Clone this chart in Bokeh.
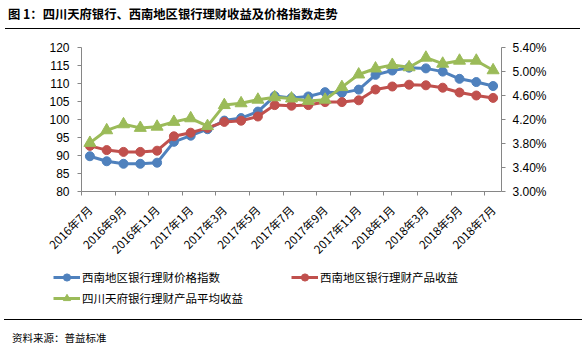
import math
from bokeh.plotting import figure
from bokeh.models import (Range1d, LinearAxis, FixedTicker, Legend, LegendItem, Div)
from bokeh.layouts import column, row
from bokeh.embed import file_html
from bokeh.resources import INLINE

months = ["2016年7月", "2016年8月", "2016年9月", "2016年10月", "2016年11月", "2016年12月",
          "2017年1月", "2017年2月", "2017年3月", "2017年4月", "2017年5月", "2017年6月",
          "2017年7月", "2017年8月", "2017年9月", "2017年10月", "2017年11月", "2017年12月",
          "2018年1月", "2018年2月", "2018年3月", "2018年4月", "2018年5月", "2018年6月",
          "2018年7月"]

price_index = [89.8, 88.4, 87.7, 87.7, 88.0, 93.8, 95.5, 97.3, 99.7, 100.4, 102.2, 106.5,
               106.0, 106.4, 107.6, 107.4, 108.3, 112.4, 113.6, 114.4, 114.2, 113.3, 111.3,
               110.4, 109.3]
sw_yield = [3.76, 3.69, 3.66, 3.66, 3.68, 3.92, 3.98, 4.06, 4.16, 4.18, 4.25, 4.44,
            4.43, 4.44, 4.49, 4.49, 4.52, 4.70, 4.75, 4.78, 4.77, 4.73, 4.65, 4.60, 4.56]
tf_yield = [3.81, 4.02, 4.12, 4.06, 4.08, 4.16, 4.22, 4.09, 4.44, 4.47, 4.53, 4.57,
            4.55, 4.51, 4.53, 4.74, 4.95, 5.05, 5.11, 5.07, 5.23, 5.13, 5.18, 5.18, 5.02]

series_names = ["西南地区银行理财价格指数", "西南地区银行理财产品收益", "四川天府银行理财产品平均收益"]
colors = ["#4F81BD", "#C0504D", "#9BBB59"]
markers = ["circle", "circle", "triangle"]
marker_sizes = [9, 9, 12]

title_text = "图 1：四川天府银行、西南地区银行理财收益及价格指数走势"
source_text = "资料来源：普益标准"

CJK = "Noto Sans CJK SC"
NUM = "Liberation Sans"
AXC = "#868686"

n = len(months)
xs = [i + 0.5 for i in range(n)]
label_pos = xs[::2]
boundaries = list(range(0, n, 2))
series_vals = [price_index, sw_yield, tf_yield]
series_ranges = ["default", "pct", "pct"]

# ---------------- main chart ----------------
p = figure(width=582, height=236, output_backend="svg", toolbar_location=None,
           x_range=Range1d(0, n), y_range=Range1d(80, 120),
           min_border_left=81, min_border_right=81, min_border_top=18, min_border_bottom=68,
           y_axis_location=None, x_axis_location=None, margin=0)
p.extra_y_ranges = {"pct": Range1d(3.0, 5.4)}
p.outline_line_color = None
p.grid.visible = False
p.background_fill_color = "white"
p.border_fill_color = "white"

ly = LinearAxis(ticker=FixedTicker(ticks=list(range(80, 121, 5))))
ly.axis_line_color = AXC
ly.major_tick_line_color = AXC
ly.minor_tick_line_color = None
ly.major_tick_out = 4
ly.major_tick_in = 0
ly.major_label_standoff = 8
ly.major_label_text_font = NUM
ly.major_label_text_font_size = "12px"
ly.major_label_text_color = "black"
p.add_layout(ly, "left")

pticks = [3.0, 3.4, 3.8, 4.2, 4.6, 5.0, 5.4]
ry = LinearAxis(y_range_name="pct", ticker=FixedTicker(ticks=pticks),
                major_label_overrides={t: "%.2f%%" % t for t in pticks})
ry.axis_line_color = AXC
ry.major_tick_line_color = AXC
ry.minor_tick_line_color = None
ry.major_tick_out = 4
ry.major_tick_in = 0
ry.major_label_standoff = 7
ry.major_label_text_font = NUM
ry.major_label_text_font_size = "12px"
ry.major_label_text_color = "black"
p.add_layout(ry, "right")

bx = LinearAxis(ticker=FixedTicker(ticks=label_pos, minor_ticks=boundaries),
                major_label_overrides={t: months[int(t)] for t in label_pos})
bx.axis_line_color = AXC
bx.major_tick_line_color = None
bx.major_tick_out = 0
bx.major_tick_in = 0
bx.minor_tick_line_color = AXC
bx.minor_tick_out = 4
bx.minor_tick_in = 0
bx.major_label_orientation = math.pi / 4
bx.major_label_standoff = 12
bx.major_label_text_font = CJK
bx.major_label_text_font_size = "11.5px"
bx.major_label_text_color = "black"
p.add_layout(bx, "below")

for vals, rng, c, mk, ms in zip(series_vals, series_ranges, colors, markers, marker_sizes):
    p.line(xs, vals, line_color=c, line_width=3, y_range_name=rng)
    p.scatter(xs, vals, marker=mk, size=ms, fill_color=c, line_color=c, y_range_name=rng)

# ---------------- legend strip ----------------
# Same series drawn into a strip whose ranges keep them out of view; only the legends show.
q = figure(width=582, height=54, output_backend="svg", toolbar_location=None,
           x_range=Range1d(-100, -99), y_range=Range1d(-100, -99), margin=0,
           min_border=0, min_border_left=0, min_border_right=0, min_border_top=0,
           min_border_bottom=0, x_axis_location=None, y_axis_location=None)
q.outline_line_color = None
q.grid.visible = False
q.border_fill_color = "white"
q.background_fill_color = "white"

items = []
for name, vals, c, mk, ms in zip(series_names, series_vals, colors, markers, marker_sizes):
    lr = q.line(xs, vals, line_color=c, line_width=3)
    sr = q.scatter(xs, vals, marker=mk, size=ms, fill_color=c, line_color=c)
    items.append(LegendItem(label=name, renderers=[lr, sr]))

common = dict(border_line_color=None, background_fill_alpha=0, padding=0, margin=0,
              spacing=3, glyph_width=27, glyph_height=18, label_height=18, label_standoff=2,
              label_text_font=CJK, label_text_font_size="11.5px", label_text_color="black",
              orientation="vertical")
q.add_layout(Legend(items=[items[0], items[2]], location=(53, 12), **common), "center")
q.add_layout(Legend(items=[items[1]], location=(291, 33), **common), "center")

# ---------------- title & source ----------------
title_div = Div(text=title_text, width=572, height=28, margin=(0, 5, 0, 5),
                styles={"font-family": CJK, "font-size": "12.3px", "font-weight": "bold",
                        "color": "black", "padding-left": "3px", "line-height": "28px",
                        "border-bottom": "1.5px solid black", "box-sizing": "content-box"})
source_div = Div(text=source_text, width=573, height=30, margin=(0, 5, 0, 4),
                 styles={"font-family": CJK, "font-size": "10.5px", "color": "black",
                         "padding-left": "8px", "line-height": "35px",
                         "border-top": "1.5px solid black", "box-sizing": "content-box"})

layout = column(title_div, p, row(q, margin=0, spacing=0), source_div, spacing=0, margin=0)
open("out.html", "w").write(file_html(layout, INLINE))
